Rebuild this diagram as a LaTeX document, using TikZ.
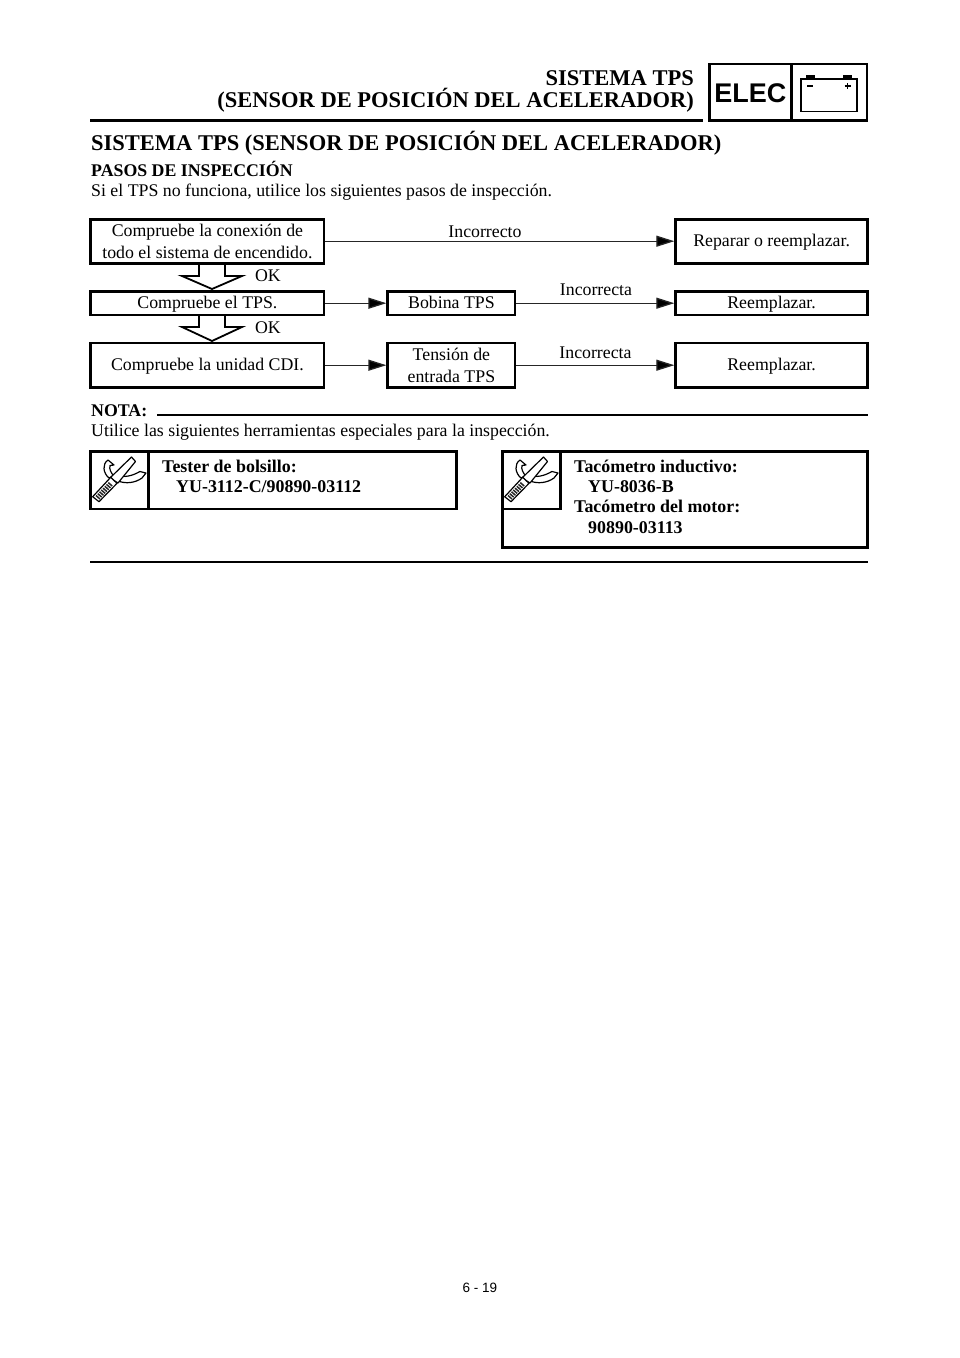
\documentclass[tikz,border=0pt]{standalone}
\usepackage{fontspec}
\setmainfont{Liberation Serif}
\newfontfamily\hv{Liberation Sans}
\usetikzlibrary{arrows.meta}
\tikzset{
  page/.style={x=1pt,y=-1pt},
  box/.style={draw=black,line width=2.6pt,fill=white,inner sep=0pt,align=center,font=\fontsize{17.8}{21.5}\selectfont,anchor=center},
  one/.style={text height=13pt,text depth=3pt},
  flow/.style={draw=black!85,line width=1.3pt,-{Triangle[length=18pt,width=11pt,fill=black]},shorten >=0pt},
  lab/.style={inner sep=0pt,font=\fontsize{17.8}{19}\selectfont,anchor=base},
  body/.style={inner sep=0pt,font=\fontsize{17.8}{19}\selectfont,anchor=base west},
  boldbody/.style={inner sep=0pt,font=\fontsize{17.8}{19}\selectfont\bfseries,anchor=base west},
  tit/.style={inner sep=0pt,font=\fontsize{22.5}{24}\selectfont\bfseries,anchor=base east},
  tool/.style={inner sep=0pt,align=left,font=\fontsize{17.9}{20.4}\selectfont\bfseries,anchor=north west},
  rule/.style={line width=2.7pt,draw=black},
  hollow/.style={draw=black,line width=1.8pt,fill=white,line join=miter},
  ico/.style={draw=black,line width=1.2pt,fill=white,line join=round},
  hbox/.style={draw=black,line width=2.6pt,minimum height=56.4pt,inner sep=0pt},
}
\newcommand{\wrench}[2]{%
\begin{scope}[shift={(#1,#2)}]
  % fork arm with eye (origin = top-left of icon box)
  \path[ico] (27,24) .. controls (34,27) and (42,25) .. (50,20.5) -- (56,22) -- (52,27)
     .. controls (45,32) and (36,33) .. (28,30) -- cycle;
  % hooked jaw
  \path[ico] (19,27) .. controls (13,22) and (12,13) .. (18,9) -- (24,14) -- (20,14.5)
     .. controls (19,18) and (21,22) .. (24,25) -- cycle;
  % stem
  \path[ico] (20,27) -- (41.5,6) -- (45.5,10.5) -- (28,32) -- cycle;
  % file
  \path[ico] (2.7,45.7) -- (20.7,26.3) -- (27,32.3) -- (9,50.7) -- cycle;
  \foreach \t in {0,1,...,7}{
    \draw[line width=1.5pt,black!85] ({6+1.75*\t},{44.5-1.85*\t}) -- ({10+1.75*\t},{48-1.85*\t});
  }
\end{scope}}
\begin{document}
\begin{tikzpicture}[page]
\useasboundingbox (0,0) rectangle (960,1358);
\fill[white] (0,0) rectangle (960,1358);

% Header
\node[tit] (h1) at (694,85) {SISTEMA TPS};
\node[tit] (h2) at (694,107) {(SENSOR DE POSICIÓN DEL ACELERADOR)};
\coordinate (hrl) at (90,120.5);
\coordinate (hrr) at (703,120.5);
\draw[rule] (hrl) -- (hrr);
\node[hbox,minimum width=82pt,text height=21.5pt,text depth=0pt,font=\hv\bfseries\fontsize{27}{30}\selectfont] (elec) at (750.4,92.2) {ELEC};
\node[hbox,minimum width=75.4pt] (batt) at (829.3,92.2) {};
\draw[line width=1.2pt] (801,79) rectangle (857,111.5);
\fill (806,74.5) rectangle (815,79);
\fill (843,74.5) rectangle (852,79);
\draw[line width=1.2pt] (807,86) -- (813,86);
\draw[line width=1.2pt] (844.5,86) -- (850.5,86) (847.5,83) -- (847.5,89);

% Title
\node[inner sep=0pt,anchor=base west,font=\fontsize{22.5}{24}\selectfont\bfseries] (title) at (91,150) {SISTEMA TPS (SENSOR DE POSICIÓN DEL ACELERADOR)};
\node[boldbody] (pasos) at (91,176.2) {PASOS DE INSPECCIÓN};
\node[body] (intro) at (91,196) {Si el TPS no funciona, utilice los siguientes pasos de inspección.};

% Flow boxes
\node[box,minimum width=233.4pt,minimum height=44pt] (a1) at (207.4,241.2) {Compruebe la conexión de\\todo el sistema de encendido.};
\node[box,one,minimum width=233.4pt,minimum height=23.2pt] (a2) at (207.4,303.2) {Compruebe el TPS.};
\node[box,one,minimum width=233.4pt,minimum height=44.5pt] (a3) at (207.4,365.2) {Compruebe la unidad CDI.};
\node[box,one,minimum width=127.5pt,minimum height=23.2pt] (b2) at (451.4,303.2) {Bobina TPS};
\node[box,minimum width=127.5pt,minimum height=44.5pt] (b3) at (451.4,365.2) {Tensión de\\entrada TPS};
\node[box,one,minimum width=192pt,minimum height=44pt] (c1) at (771.6,241.2) {Reparar o reemplazar.};
\node[box,one,minimum width=192pt,minimum height=23.2pt] (c2) at (771.6,303.2) {Reemplazar.};
\node[box,one,minimum width=192pt,minimum height=44.5pt] (c3) at (771.6,365.2) {Reemplazar.};

% Connectors
\draw[flow] (a1.east) -- (c1.west);
\draw[flow] (a2.east) -- (b2.west);
\draw[flow] (b2.east) -- (c2.west);
\draw[flow] (a3.east) -- (b3.west);
\draw[flow] (b3.east) -- (c3.west);

\node[lab] (l1) at (485,237.5) {Incorrecto};
\node[lab] (l2) at (596,295) {Incorrecta};
\node[lab] (l3) at (595.5,358) {Incorrecta};

% Hollow arrows
\draw[hollow] (199,265) -- (199,276) -- (182,276) -- (212,289) -- (242,276) -- (225,276) -- (225,265);
\draw[hollow] (199,316) -- (199,327) -- (182,327) -- (212,341) -- (242,327) -- (225,327) -- (225,316);
\node[lab] (ok1) at (268,281.5) {OK};
\node[lab] (ok2) at (268,333) {OK};

% Nota
\node[boldbody] (nota) at (91,416.5) {NOTA:};
\coordinate (nl) at (157,415);
\coordinate (nr) at (868,415);
\draw[rule] (nl) -- (nr);
\node[body] (util) at (91,436) {Utilice las siguientes herramientas especiales para la inspección.};

% Tool boxes
\draw[line width=2.6pt] (90.5,451.3) rectangle (456.5,508.8);
\draw[line width=2.6pt] (148.5,451.3) -- (148.5,508.8);
\wrench{90}{451}
\node[tool] (t1) at (162,459.5) {Tester de bolsillo:\\\hspace*{14pt}YU-3112-C/90890-03112};

\draw[line width=2.6pt] (502.5,451.3) rectangle (867.5,547.7);
\draw[line width=2.6pt] (560.5,451.3) -- (560.5,508.8) -- (502.5,508.8);
\wrench{502}{451}
\node[tool] (t2) at (574,459.5) {Tacómetro inductivo:\\\hspace*{14pt}YU-8036-B\\Tacómetro del motor:\\\hspace*{14pt}90890-03113};

% Bottom
\coordinate (bl) at (90,562);
\coordinate (br) at (868,562);
\draw[rule] (bl) -- (br);
\node[inner sep=0pt,anchor=base,font=\hv\fontsize{13.5}{16}\selectfont] (pg) at (480,1292) {6 - 19};
\end{tikzpicture}
\end{document}
